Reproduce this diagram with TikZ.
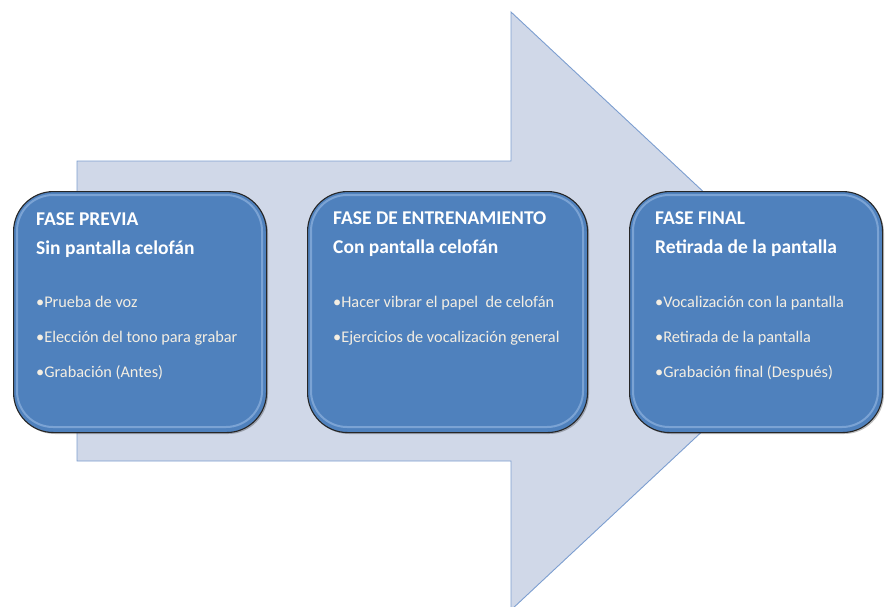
\documentclass[tikz,border=0pt]{standalone}
\usepackage{fontspec}
\setmainfont{Carlito}
\definecolor{arrowfill}{RGB}{208,216,232}
\definecolor{arrowline}{RGB}{124,158,208}
\definecolor{boxblue}{RGB}{79,129,189}
\definecolor{boxedge}{RGB}{38,38,38}
\definecolor{bevel}{RGB}{160,192,232}
\definecolor{bullettext}{RGB}{244,238,226}
\tikzset{
  phasebox/.style={draw=boxedge, line width=1.1pt, fill=boxblue, rounded corners=40pt, inner sep=0pt},
  bevelline/.style={draw=bevel, line width=2pt, rounded corners=36pt, opacity=0.55},
  titletext/.style={anchor=base west, inner sep=0pt, text=white, font=\fontsize{19.5}{21}\selectfont\bfseries},
  itemtext/.style={anchor=base west, inner sep=0pt, text=bullettext, font=\fontsize{16.3}{18}\selectfont}
}
\begin{document}
\begin{tikzpicture}[x=1pt,y=-1pt]
\useasboundingbox (0,0) rectangle (885,606);
% big arrow
\draw[fill=arrowfill, draw=arrowline, line width=0.9pt]
  (77,161) -- (511,161) -- (511,12) -- (831,311) -- (511,610) -- (511,461) -- (77,461) -- cycle;
% boxes
\foreach \n/\xa/\xb in {b1/13/266, b2/307/587, b3/629/882}{
  \fill[black, opacity=0.25, rounded corners=40pt] (\xa+2,193) rectangle (\xb+2,434);
  \node[phasebox, minimum width=\xb-\xa, minimum height=241, anchor=north west] (\n) at (\xa,191) {};
  \draw[bevelline] (\xa+4,195) rectangle (\xb-4,427);
}
% box 1
\node[titletext] (t1a) at (36,225) {FASE PREVIA};
\node[titletext] (t1b) at (36,254) {Sin pantalla celofán};
\node[itemtext] (i1a) at (36,307) {•Prueba de voz};
\node[itemtext] (i1b) at (36,342) {•Elección del tono para grabar};
\node[itemtext] (i1c) at (36,377) {•Grabación (Antes)};
% box 2
\node[titletext] (t2a) at (333,224) {FASE DE ENTRENAMIENTO};
\node[titletext] (t2b) at (333,253) {Con pantalla celofán};
\node[itemtext] (i2a) at (333,307) {•Hacer vibrar el papel\ \ de celofán};
\node[itemtext] (i2b) at (333,342) {•Ejercicios de vocalización general};
% box 3
\node[titletext] (t3a) at (655,224) {FASE FINAL};
\node[titletext] (t3b) at (655,253) {Retirada de la pantalla};
\node[itemtext] (i3a) at (655,307) {•Vocalización con la pantalla};
\node[itemtext] (i3b) at (655,342) {•Retirada de la pantalla};
\node[itemtext] (i3c) at (655,377) {•Grabación final (Después)};
\end{tikzpicture}
\end{document}
